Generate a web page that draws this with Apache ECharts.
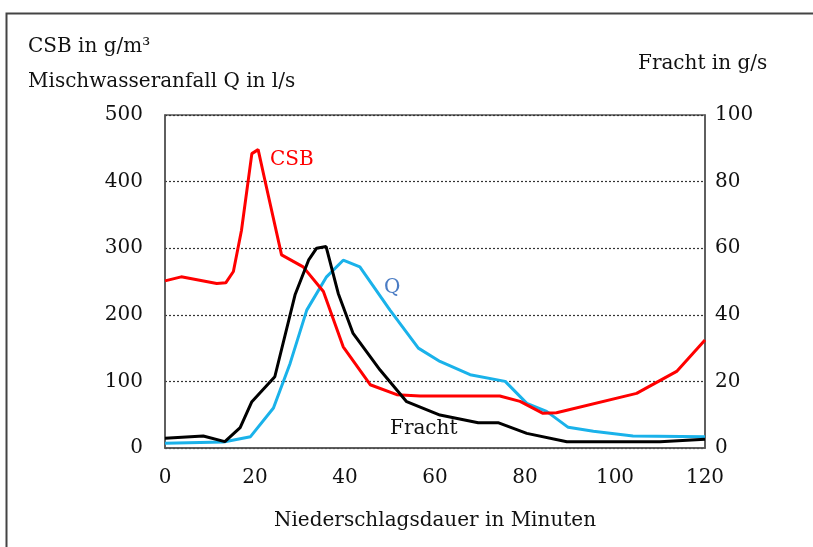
<!DOCTYPE html>
<html>
<head>
<meta charset="utf-8">
<script src="https://cdn.jsdelivr.net/npm/echarts@6/dist/echarts.min.js"></script>
<style>
  html, body { margin: 0; padding: 0; background: #fff; }
  #chart { width: 813px; height: 547px; }
</style>
</head>
<body>
<div id="chart"></div>
<script>
// Daten: [Minuten, Wert]
const csbData = [
  [0, 251], [3.6, 257], [11.5, 247], [13.5, 248], [15.2, 265], [17, 327],
  [19.3, 442], [20.7, 448], [22.2, 402], [25.9, 290], [30.7, 272], [35.2, 235],
  [39.6, 152], [45.6, 95], [51.5, 80], [56.7, 78], [74.4, 78], [78.9, 70],
  [84, 52], [87, 53], [104.8, 82], [113.7, 115], [120, 162]
];
const qData = [
  [0, 7], [13, 9], [19, 17], [24.1, 60], [27.8, 127], [31.5, 207], [35.9, 257],
  [39.6, 282], [43.3, 272], [50, 207], [56.3, 150], [61.1, 130], [67.8, 110],
  [75.6, 100], [80.4, 67], [84.8, 55], [89.6, 31], [95.2, 25], [104, 18], [120, 17]
];
const frachtData = [
  [0, 2.9], [8.5, 3.6], [13.3, 1.9], [16.7, 6.1], [19.3, 13.9], [24.4, 21.4],
  [28.9, 46], [31.9, 56.4], [33.7, 60], [35.8, 60.5], [38.5, 46.4], [41.8, 34.4],
  [47.8, 23.4], [53.7, 13.9], [61.1, 9.9], [69.6, 7.6], [74, 7.6], [80.4, 4.4],
  [89.3, 1.9], [110, 1.9], [120, 2.6]
];

const serif = 'DejaVu Serif';
const fs = 20;
const chart = echarts.init(document.getElementById('chart'));

const option = {
  animation: false,
  textStyle: { fontFamily: serif },
  grid: { left: 165, top: 115, right: 108, bottom: 99, show: true, borderColor: '#555', borderWidth: 1.5 },
  xAxis: {
    type: 'value', min: 0, max: 120, interval: 20,
    name: 'Niederschlagsdauer in Minuten', nameLocation: 'middle', nameGap: 63,
    nameTextStyle: { fontFamily: serif, fontSize: fs, color: '#111' },
    axisLine: { show: true, lineStyle: { color: '#555', width: 1.5 } },
    axisTick: { show: false },
    axisLabel: { fontFamily: serif, fontSize: fs, color: '#111', margin: 20 },
    splitLine: { show: false }
  },
  yAxis: [
    {
      type: 'value', min: 0, max: 500, interval: 100,
      axisLine: { show: true, lineStyle: { color: '#555', width: 1.5 } },
      axisTick: { show: false },
      axisLabel: { fontFamily: serif, fontSize: fs, color: '#111', margin: 22 },
      splitLine: { show: true, lineStyle: { color: '#333', type: [2, 2], width: 1.2 } }
    },
    {
      type: 'value', min: 0, max: 100, interval: 20,
      axisLine: { show: true, lineStyle: { color: '#555', width: 1.5 } },
      axisTick: { show: false },
      axisLabel: { fontFamily: serif, fontSize: fs, color: '#111', margin: 10 },
      splitLine: { show: false }
    }
  ],
  series: [
    {
      name: 'CSB', type: 'line', yAxisIndex: 0, data: csbData,
      showSymbol: false, lineStyle: { color: '#ff0000', width: 3 }, z: 3
    },
    {
      name: 'Q', type: 'line', yAxisIndex: 0, data: qData,
      showSymbol: false, lineStyle: { color: '#1ab2ea', width: 3 }, z: 2
    },
    {
      name: 'Fracht', type: 'line', yAxisIndex: 1, data: frachtData,
      showSymbol: false, lineStyle: { color: '#000', width: 3 }, z: 4
    }
  ],
  graphic: [
    { type: 'rect', left: 4, top: 11, shape: { width: 900, height: 600 },
      style: { fill: 'none', stroke: '#444', lineWidth: 2 }, silent: true },
    { type: 'text', left: 28, top: 37, style: { text: 'CSB in g/m³', font: fs + 'px ' + serif, fill: '#111' } },
    { type: 'text', left: 28, top: 72, style: { text: 'Mischwasseranfall Q in l/s', font: fs + 'px ' + serif, fill: '#111' } },
    { type: 'text', left: 638, top: 54, style: { text: 'Fracht in g/s', font: fs + 'px ' + serif, fill: '#111' } },
    { type: 'text', left: 270, top: 150, style: { text: 'CSB', font: fs + 'px ' + serif, fill: '#ff0000' } },
    { type: 'text', left: 384, top: 278, style: { text: 'Q', font: fs + 'px ' + serif, fill: '#4a7cc4' } },
    { type: 'text', left: 390, top: 419, style: { text: 'Fracht', font: fs + 'px ' + serif, fill: '#111' } }
  ]
};
chart.setOption(option);
</script>
</body>
</html>
